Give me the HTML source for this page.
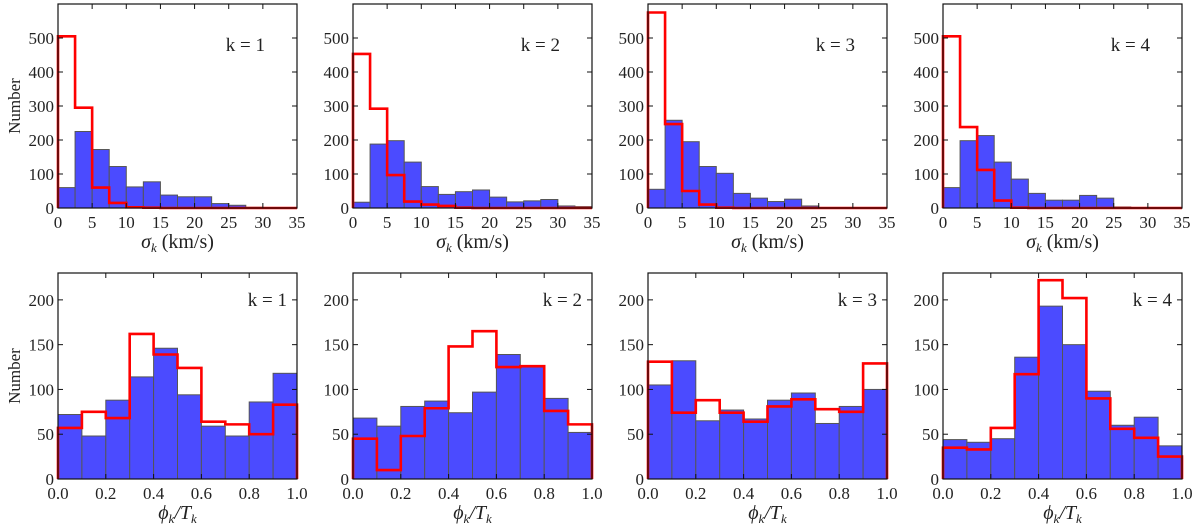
<!DOCTYPE html>
<html><head><meta charset="utf-8"><style>
body{margin:0;background:#fff}
svg{display:block}
text{font-family:"Liberation Serif",serif;fill:#222}
</style></head><body>
<svg id="fig" width="1200" height="530" xmlns="http://www.w3.org/2000/svg"></svg>
<script>
const sigmaEdges=[0,2.5,5,7.5,10,12.5,15,17.5,20,22.5,25,27.5,30,32.5,35];
const sigmaBlue1=[60,225,172,122,62,77,38,33,33,13,8,2,1,1];
const sigmaRed1=[505,295,60,15,2,1,0,0,0,0,0,0,0,0];
const sigmaBlue2=[17,188,198,135,63,40,48,53,32,18,21,25,6,4];
const sigmaRed2=[453,292,97,19,10,6,1,0,0,0,0,0,0,0];
const sigmaBlue3=[55,258,195,122,102,43,29,19,26,6,1,0,0,0];
const sigmaRed3=[575,247,50,10,1,0,0,0,0,0,0,0,0,0];
const sigmaBlue4=[60,198,213,135,85,43,23,23,37,29,3,1,0,0];
const sigmaRed4=[505,238,112,22,1,0,0,0,0,0,0,0,0,0];
const phaseEdges=[0,0.1,0.2,0.3,0.4,0.5,0.6,0.7,0.8,0.9,1.0];
const phaseBlue1=[72,48,88,114,146,94,59,48,86,118];
const phaseRed1=[57,75,68,162,139,124,64,61,50,83];
const phaseBlue2=[68,59,81,87,74,97,139,125,90,52];
const phaseRed2=[45,10,48,79,148,165,125,126,76,61];
const phaseBlue3=[105,132,65,77,67,88,96,62,81,100];
const phaseRed3=[131,74,88,74,64,81,89,78,75,129];
const phaseBlue4=[44,41,45,136,193,150,98,60,69,37];
const phaseRed4=[35,33,57,117,222,202,90,56,46,25];
const sigmaXTicks=[0,5,10,15,20,25,30,35];
const sigmaYTicks=[0,100,200,300,400,500];
const phaseXTicks=["0.0","0.2","0.4","0.6","0.8","1.0"];
const phaseYTicks=[0,50,100,150,200];

const NS="http://www.w3.org/2000/svg";
const svg=document.getElementById('fig');
function mk(tag,attrs,parent,txt){const e=document.createElementNS(NS,tag);for(const k in attrs)e.setAttribute(k,attrs[k]);if(txt!==undefined)e.textContent=txt;(parent||svg).appendChild(e);return e;}

const lefts=[58,353,648,943];
const W=239;
function panel(idx,row,edges,blue,red,xmin,xmax,ymax,xticks,yticks){
  const L=lefts[idx], T=row===0?4:273, B=row===0?208:479, H=B-T;
  const sx=v=>L+(v-xmin)/(xmax-xmin)*W;
  const sy=v=>B-v/ymax*H;
  const g=mk('g',{});
  
  
  for(let i=0;i<blue.length;i++){
    const x0=sx(edges[i]),x1=sx(edges[i+1]),y=sy(blue[i]);
    const r=mk('rect',{x:x0,y:y,width:x1-x0,height:B-y,fill:'#4b4bff',stroke:'#555','stroke-width':1},g);
    
    
  }
  let d='M'+sx(edges[0])+','+B;
  for(let i=0;i<red.length;i++){d+=' L'+sx(edges[i])+','+sy(red[i])+' L'+sx(edges[i+1])+','+sy(red[i]);}
  d+=' L'+sx(edges[edges.length-1])+','+B;
  const p=mk('path',{d:d,fill:'none',stroke:'#ff0000','stroke-width':2.6,'stroke-linejoin':'miter'},g);
  
  
  const f=mk('rect',{x:L,y:T,width:W,height:H,fill:'none',stroke:'#111','stroke-width':1.2},g);
  
  
  xticks.forEach(t=>{const x=sx(parseFloat(t));
    mk('line',{x1:x,x2:x,y1:B,y2:B-5,stroke:'#111'},g);
    mk('line',{x1:x,x2:x,y1:T,y2:T+5,stroke:'#111'},g);
    const tx=mk('text',{x:x,y:B+20,'text-anchor':'middle','font-size':17},g,String(t));
    
    
  });
  yticks.forEach(t=>{const y=sy(t);
    mk('line',{x1:L,x2:L+5,y1:y,y2:y,stroke:'#111'},g);
    mk('line',{x1:L+W,x2:L+W-5,y1:y,y2:y,stroke:'#111'},g);
    const ty=mk('text',{x:L-4,y:y+6,'text-anchor':'end','font-size':17},g,String(t));
    
    
  });
  const kl=mk('text',{x:row===0?L+W-32:L+W-10,y:row===0?51:306,'text-anchor':'end','font-size':19},g,'k = '+(idx+1));
  
  
  const xl=mk('text',{x:L+W/2,y:B+40,'text-anchor':'middle','font-size':20},g);
  
  
  if(row===0){
    mk('tspan',{'font-style':'italic'},xl,'σ');
    mk('tspan',{'font-style':'italic','font-size':13,dy:4},xl,'k');
    mk('tspan',{dy:-4},xl,' (km/s)');
  }else{
    mk('tspan',{'font-style':'italic'},xl,'ϕ');
    mk('tspan',{'font-style':'italic','font-size':13,dy:4},xl,'k');
    mk('tspan',{'font-style':'italic',dy:-4},xl,'/T');
    mk('tspan',{'font-style':'italic','font-size':13,dy:4},xl,'k');
  }
  if(idx===0){
    const cy=(T+B)/2;
    const yl=mk('text',{x:20,y:cy,'text-anchor':'middle','font-size':17,transform:'rotate(-90 20 '+cy+')'},g,'Number');
    
    
  }
}
const sb=[sigmaBlue1,sigmaBlue2,sigmaBlue3,sigmaBlue4], sr=[sigmaRed1,sigmaRed2,sigmaRed3,sigmaRed4];
const pb=[phaseBlue1,phaseBlue2,phaseBlue3,phaseBlue4], pr=[phaseRed1,phaseRed2,phaseRed3,phaseRed4];
for(let i=0;i<4;i++){
  panel(i,0,sigmaEdges,sb[i],sr[i],0,35,600,sigmaXTicks,sigmaYTicks);
  panel(i,1,phaseEdges,pb[i],pr[i],0,1,230,phaseXTicks,phaseYTicks);
}
</script>
</body></html>
